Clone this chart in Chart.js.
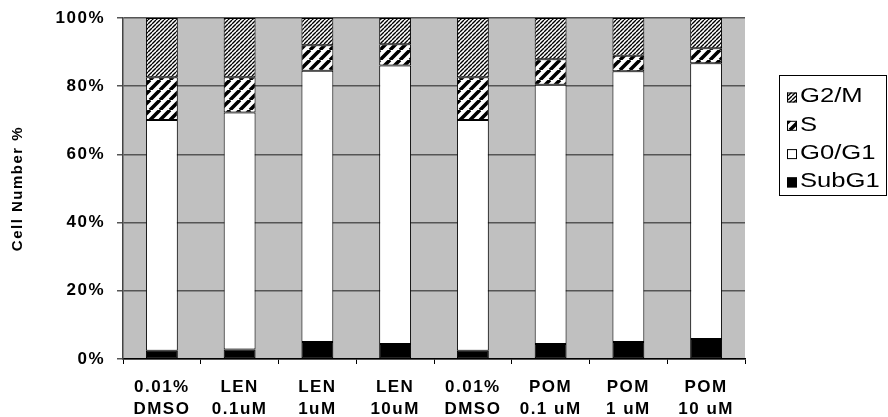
<!DOCTYPE html>
<html>
<head>
<meta charset="utf-8">
<script src="https://cdn.jsdelivr.net/npm/chart.js@4/dist/chart.umd.min.js"></script>
<style>
  html, body { margin: 0; padding: 0; background: #fff; }
  #wrap { width: 888px; height: 417px; position: relative; }
</style>
</head>
<body>
<div id="wrap"><canvas id="grafica"></canvas></div>
<script>
// datos (% de celulas)
const categorias = [
    ['0.01%', 'DMSO'], ['LEN', '0.1uM'], ['LEN', '1uM'], ['LEN', '10uM'],
    ['0.01%', 'DMSO'], ['POM', '0.1 uM'], ['POM', '1 uM'], ['POM', '10 uM']
];
const subG1 = [2.4, 2.8, 5.0, 4.4, 2.4, 4.4, 5.0, 5.9];
const g0g1  = [67.7, 69.5, 79.5, 81.7, 67.7, 76.0, 79.4, 80.8];
const faseS = [12.5, 10.3, 7.5, 6.2, 12.5, 7.5, 4.5, 4.4];
const g2m   = [17.4, 17.4, 8.0, 7.7, 17.4, 12.1, 11.1, 8.9];
const marcasY = [0, 20, 40, 60, 80, 100];

const fuente = '"Liberation Sans", Arial, sans-serif';

function rayado(n, grosor){
    const c = document.createElement('canvas');
    c.width = n; c.height = n;
    const x = c.getContext('2d');
    x.fillStyle = '#fff';
    x.fillRect(0, 0, n, n);
    x.strokeStyle = '#000';
    x.lineWidth = grosor;
    x.beginPath();
    [-n, 0, n].forEach(o => {
        x.moveTo(o, n);
        x.lineTo(o + n, 0);
    });
    x.stroke();
    return x.createPattern(c, 'repeat');
}

const ctx = document.getElementById('grafica');
const patronG2M = rayado(4, 1.4);
const patronS = rayado(10, 3.6);

const fondoGris = {
    id: 'fondoGris',
    beforeDraw(chart){
        const a = chart.chartArea;
        const c = chart.ctx;
        c.save();
        c.fillStyle = '#c0c0c0';
        c.fillRect(a.left, a.top, a.right - a.left, a.bottom - a.top);
        c.restore();
        c.letterSpacing = '1.5px';
    }
};

const leyenda = {
    id: 'leyenda',
    afterDraw(chart){
        const c = chart.ctx;
        c.save();
        c.letterSpacing = '0px';
        c.strokeStyle = '#000';
        c.lineWidth = 1;
        c.strokeRect(779.5, 75.5, 107, 120);
        const ds = chart.data.datasets.slice().reverse();
        c.font = '21px ' + fuente;
        c.textBaseline = 'middle';
        ds.forEach((d, i) => {
            const y = 97.5 + i * 28.3;
            c.fillStyle = d.backgroundColor;
            c.fillRect(787, y - 5, 10, 10);
            c.strokeRect(787.5, y - 4.5, 9, 9);
            c.save();
            c.translate(800, y - 1);
            c.scale(1.22, 1);
            c.fillStyle = '#000';
            c.fillText(d.label, 0, 0);
            c.restore();
        });
        c.restore();
    }
};

const base = { borderColor: '#000', borderWidth: 1, borderSkipped: false,
               barPercentage: 0.41, categoryPercentage: 1.0 };

new Chart(ctx, {
    type: 'bar',
    data: {
        labels: categorias,
        datasets: [
            Object.assign({ label: 'SubG1', data: subG1, backgroundColor: '#000' }, base),
            Object.assign({ label: 'G0/G1', data: g0g1, backgroundColor: '#fff' }, base),
            Object.assign({ label: 'S', data: faseS, backgroundColor: patronS }, base),
            Object.assign({ label: 'G2/M', data: g2m, backgroundColor: patronG2M }, base)
        ]
    },
    options: {
        responsive: true,
        maintainAspectRatio: false,
        animation: false,
        layout: { padding: { top: 0, right: 143, left: 0, bottom: 0 } },
        plugins: {
            legend: { display: false },
            tooltip: { enabled: false }
        },
        scales: {
            x: {
                stacked: true,
                afterFit: s => { s.height = 58; },
                grid: { drawOnChartArea: false, offset: true, tickLength: 5, color: '#000' },
                border: { color: '#000', width: 1.5 },
                ticks: {
                    color: '#000', padding: 12, maxRotation: 0, autoSkip: false,
                    font: { family: fuente, size: 17, weight: 'bold', lineHeight: 1.3 }
                }
            },
            y: {
                stacked: true,
                min: 0, max: 100,
                afterBuildTicks: s => { s.ticks = marcasY.map(v => ({ value: v })); },
                afterFit: s => { s.width = 123; s.paddingTop = 18; },
                grid: { color: '#555', lineWidth: 1.5, tickLength: 6 },
                border: { color: '#444', width: 1.5 },
                ticks: {
                    color: '#000', padding: 12,
                    callback: v => v + '%',
                    font: { family: fuente, size: 17, weight: 'bold' }
                },
                title: {
                    display: true, text: 'Cell Number %', color: '#000',
                    font: { family: fuente, size: 15, weight: 'bold' },
                    padding: { top: 9, bottom: 0 }
                }
            }
        }
    },
    plugins: [fondoGris, leyenda]
});
</script>
</body>
</html>
